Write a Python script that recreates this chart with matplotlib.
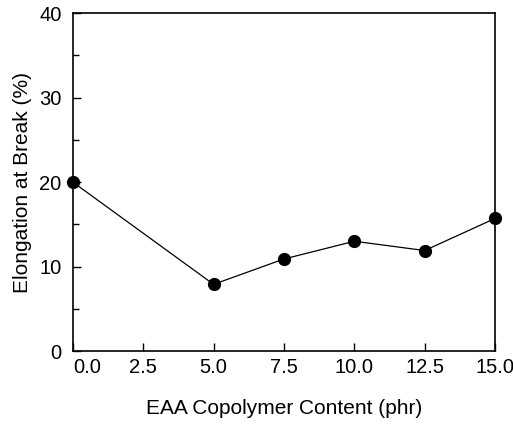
import matplotlib.pyplot as plt
import matplotlib.transforms as mtransforms
from matplotlib.ticker import MultipleLocator

plt.rcParams['font.family'] = ['Liberation Sans', 'DejaVu Sans']

# ====================================
# Data
# ====================================

eaa_content = [0.0, 5.0, 7.5, 10.0, 12.5, 15.0]
elongation = [20.0, 7.9, 10.9, 13.0, 11.9, 15.7]

x_ticks = [0.0, 2.5, 5.0, 7.5, 10.0, 12.5, 15.0]
y_ticks = [0, 10, 20, 30, 40]


# ====================================
# Plot
# ====================================

fig = plt.figure(figsize=(5.13, 4.24), dpi=100)
ax = fig.add_axes([0.142, 0.172, 0.823, 0.797])

ax.plot(
    eaa_content,
    elongation,
    color="black",
    linewidth=0.9,
    marker="o",
    markersize=8.5,
    clip_on=False,
    zorder=3
)

ax.set_xlim(0, 15)
ax.set_ylim(0, 40)
ax.set_xticks(x_ticks)
ax.set_xticklabels([f"{t:.1f}" for t in x_ticks])
ax.set_yticks(y_ticks)
ax.yaxis.set_minor_locator(MultipleLocator(5))

ax.tick_params(axis="both", which="both", direction="in", top=False, right=False)
ax.tick_params(axis="both", which="major", length=6, width=1, labelsize=14.5)
ax.tick_params(axis="x", which="major", pad=5)
ax.tick_params(axis="y", which="major", pad=8)
ax.tick_params(axis="y", which="minor", length=4, width=1)

# nudge "0.0" right so it clears the y "0"
first = ax.get_xticklabels()[0]
first.set_transform(
    first.get_transform()
    + mtransforms.ScaledTranslation(10 / 72, 0, fig.dpi_scale_trans)
)

for spine in ax.spines.values():
    spine.set_linewidth(1.2)

ax.set_xlabel("EAA Copolymer Content (phr)", fontsize=15, labelpad=16)
ax.set_ylabel("Elongation at Break (%)", fontsize=15, labelpad=5)

fig.savefig("out.png", dpi=100)
